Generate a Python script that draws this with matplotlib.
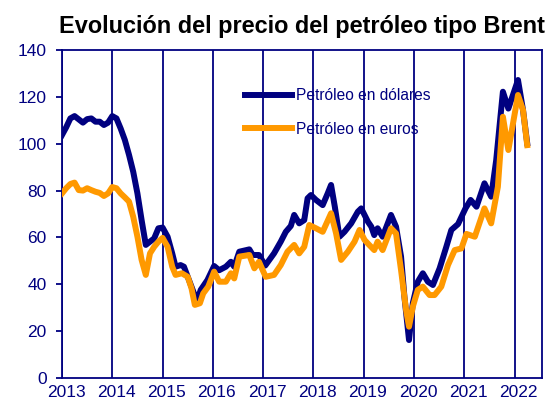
import matplotlib
matplotlib.use("Agg")
import matplotlib.pyplot as plt
from matplotlib.transforms import ScaledTranslation
import numpy as np

plt.rcParams['font.family'] = ['Liberation Sans', 'DejaVu Sans']

# Meses desde enero de 2013 y precio
meses_usd = [0, 1, 2, 3, 4, 5, 6, 7, 8, 9, 10, 11, 12, 13, 14, 15, 16, 17, 18, 19,
             20, 21, 22, 23, 24, 25.2, 26.3, 27.1, 28.3, 29.1, 30.3, 31.5, 32.3, 33.1,
             34.7, 36.3, 37.5, 39.1, 40.3, 41.1, 42.3, 44.7, 45.5, 47, 48.5, 50.6,
             52.2, 53.4, 54.6, 55.4, 56.6, 57.8, 58.6, 59.4, 60.6, 62.2, 63.4, 64.2,
             65.1, 66.2, 67.4, 69, 70.6, 71.4, 73, 73.8, 74.5, 75.3, 76.5, 78.5, 79.7,
             80.9, 81.7, 82.8, 83.7, 84.9, 86.1, 87.3, 88.5, 90.1, 91.7, 92.9, 94.5,
             96.3, 97.5, 98.9, 100.8, 102.4, 103.6, 105.2, 106.5, 108.8, 110, 111]
usd = [103.7, 107, 110.8, 111.8, 110.4, 109, 110.5, 110.8, 109.4, 109.4, 108, 109,
       111.8, 110.8, 106.5, 101.6, 95.2, 88, 78.8, 67.4, 56.8, 58.2, 59.6, 63.9, 64.2,
       60.3, 53.2, 47.5, 48.2, 47.5, 41.8, 36.1, 33.3, 37.6, 41.8, 47.8, 46, 47.5,
       49.6, 47.5, 53.9, 54.9, 52.5, 52.5, 48, 53.2, 58.2, 62.4, 64.9, 69.6, 66, 67.4,
       76.7, 78.1, 76, 73.8, 78.8, 82.4, 73.1, 60.3, 62.4, 66, 71, 72.4, 66.7, 64.6,
       61, 63.9, 60.3, 69.6, 64.6, 51.8, 34.7, 16.2, 31.9, 41.1, 44.7, 41.1, 39.7,
       46.8, 56, 63.2, 65.7, 72.5, 76, 73.1, 83.1, 77.4, 93, 122.2, 115, 127.2,
       114.4, 100.2]

meses_eur = [0, 1, 2, 3, 4, 5, 6, 7, 8, 9, 10, 11, 12, 13, 14, 15, 16, 17, 18, 19,
             20, 21, 22, 23, 24, 25.2, 26.3, 27.1, 28.6, 30, 30.9, 31.7, 32.9, 33.7,
             34.9, 36.3, 37.5, 39.1, 40.3, 41.1, 42.3, 44.7, 45.9, 47, 48.6, 50.6,
             52.2, 53.8, 55.4, 56.6, 57.8, 59, 60.6, 62.2, 64.2, 65.4, 66.6, 68.2,
             69.8, 71, 72.2, 73.3, 74.5, 75.3, 76.5, 78.5, 79.7, 80.9, 82.1, 82.8,
             83.7, 84.9, 86.1, 87.7, 88.9, 90.5, 92.1, 93.7, 95.3, 96.5, 98.5, 100.8,
             102.4, 104, 105.2, 106.5, 108.8, 110, 111]
eur = [78.8, 81, 82.8, 83.4, 80.2, 80, 81, 80.2, 79.5, 79, 77.7, 78.8, 81.5, 81,
       78.8, 77.1, 75.3, 68.8, 60.3, 50.4, 44, 53.2, 56, 58.2, 59.8, 56, 47.5, 44,
       44.7, 43.2, 38.3, 31.2, 31.9, 36.1, 39, 45.4, 41.1, 41.1, 44.7, 42.5, 51.8,
       52.5, 46.8, 49.6, 43.2, 44, 48.2, 53.9, 56.8, 53.2, 56, 65.3, 63.9, 62.4,
       70.3, 61.7, 50.4, 53.9, 58.2, 63.2, 58.9, 56.8, 54.6, 58.2, 54.6, 63.9, 61.7,
       46, 29, 21.9, 30.4, 37.6, 39, 35.4, 35.4, 39, 48.2, 54.6, 55.3, 61.5, 60.3,
       72.4, 66, 81.6, 111.5, 97.3, 120.8, 114.4, 99.4]

anios = list(range(2013, 2023))

azul = '#000080'
naranja = '#FF9900'

fig = plt.figure(figsize=(5.48, 4.05), dpi=100)
ax = fig.add_axes([0.1131, 0.0667, 0.8765, 0.8098])

t_usd = 2013 + np.array(meses_usd) / 12
t_eur = 2013 + np.array(meses_eur) / 12
ax.plot(t_usd, usd, color=azul, lw=4.3, label='Petróleo en dólares', zorder=3)
ax.plot(t_eur, eur, color=naranja, lw=4.3, label='Petróleo en euros', zorder=4)

ax.set_xlim(2013, 2022.55)
ax.set_ylim(0, 140)
ax.set_yticks(range(0, 141, 20))
ax.set_xticks(anios)
ax.set_xticklabels([str(a) for a in anios])
ax.grid(axis='x', color=azul, lw=1.3)
ax.set_axisbelow(True)

for s in ax.spines.values():
    s.set_color(azul)
    s.set_linewidth(1.3)
ax.tick_params(axis='y', colors=azul, labelsize=12.5, length=4, width=1.3, pad=7)
ax.tick_params(axis='x', colors=azul, labelsize=12.5, length=0, pad=5)
for lab in ax.get_xticklabels():
    lab.set_transform(lab.get_transform() + ScaledTranslation(0.04, 0, fig.dpi_scale_trans))

ax.set_title('Evolución del precio del petróleo tipo Brent', fontsize=16.9,
             fontweight='bold', color='black', pad=12)

leg = ax.legend(loc='upper left', bbox_to_anchor=(0.352, 0.927), frameon=False,
                fontsize=11.2, handlelength=3.0, handletextpad=0.3,
                labelspacing=1.2)
for txt in leg.get_texts():
    txt.set_color(azul)

fig.savefig('out.png', dpi=100)
